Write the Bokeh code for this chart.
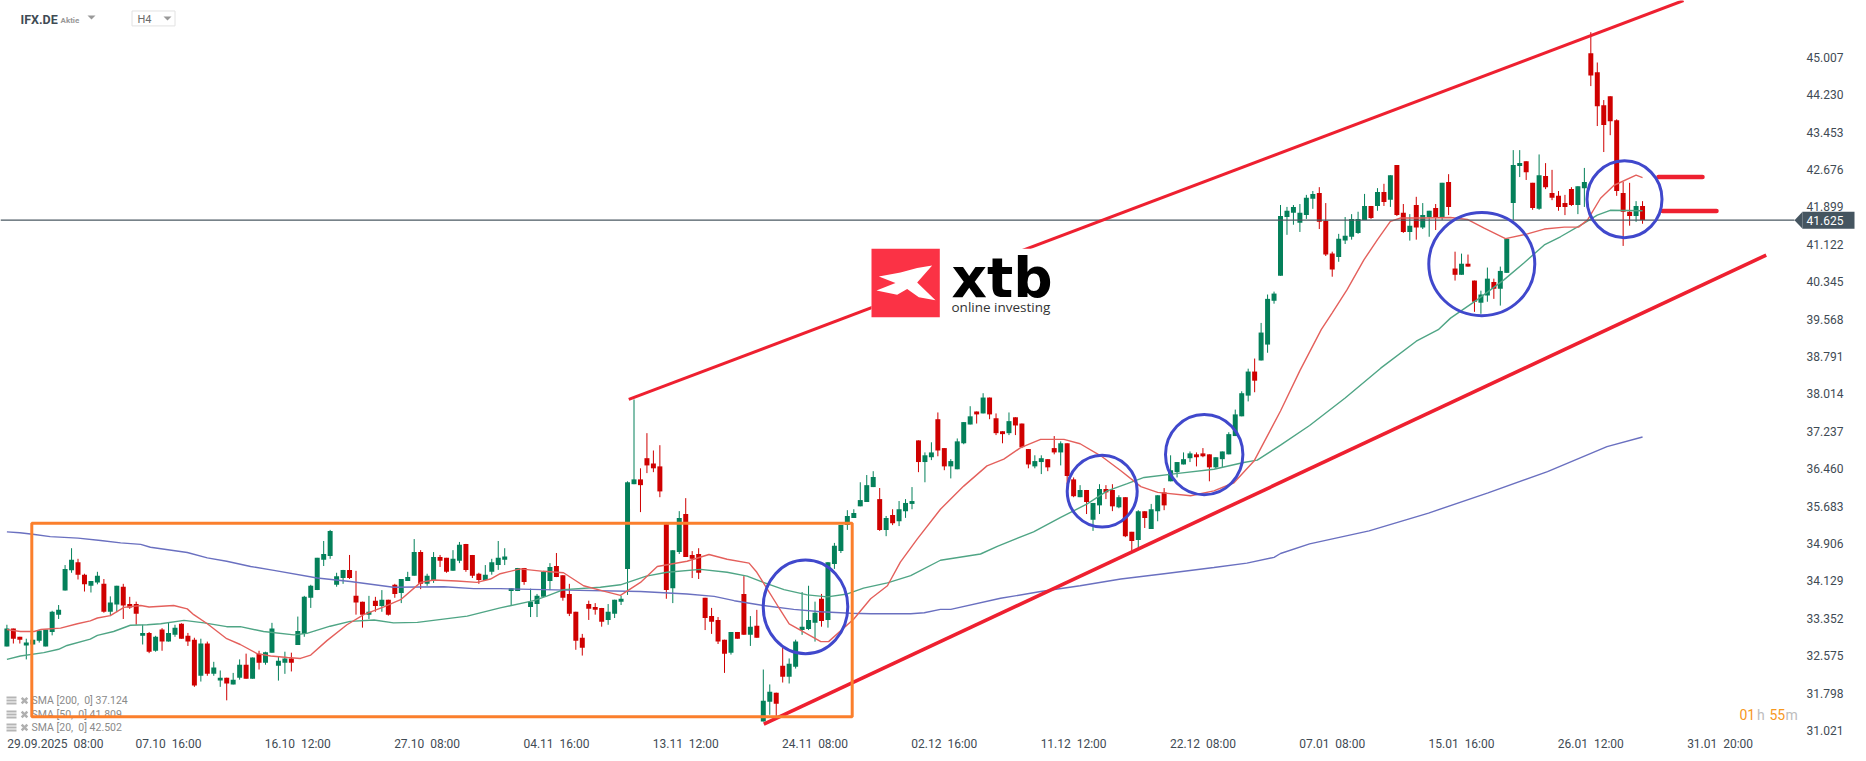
from bokeh.plotting import figure
from bokeh.embed import file_html
from bokeh.resources import INLINE
from bokeh.models import Range1d, FixedTicker, LinearAxis, PrintfTickFormatter
from bokeh.core.properties import value

opens = [
32.77,33.14,32.97,32.79,32.81,32.89,32.77,33.07,33.43,33.93,
34.35,34.52,34.26,34.03,34.10,34.07,33.49,33.64,34.01,33.65,
33.65,32.99,33.05,32.68,33.12,32.87,33.01,33.24,32.99,32.91,
32.16,32.83,32.20,32.06,32.12,31.98,32.12,32.39,32.10,32.62,
32.43,32.64,32.37,32.43,32.52,32.80,33.03,33.78,33.94,34.57,
34.65,34.05,34.19,34.36,33.82,33.70,33.43,33.72,33.61,33.74,
34.05,33.88,34.13,34.24,34.73,34.07,34.15,34.63,34.61,34.34,
34.55,34.90,34.67,34.28,34.15,34.32,34.46,34.57,33.92,33.92,
34.40,33.59,33.65,33.80,34.13,34.44,34.25,33.86,33.49,32.95,
33.65,33.59,33.57,33.32,33.45,33.70,34.38,36.14,36.24,36.68,
36.57,36.51,35.31,33.98,34.73,35.52,34.67,34.69,33.78,33.40,
33.32,32.91,32.64,33.07,33.86,33.01,33.20,31.21,31.62,31.81,
32.37,32.14,32.35,33.11,33.13,33.26,33.76,33.32,34.48,34.75,
35.29,35.44,35.68,35.77,36.08,35.83,35.19,35.50,35.37,35.58,
35.73,37.05,36.60,36.70,37.49,36.89,36.51,36.45,36.99,37.38,
37.65,37.61,37.94,37.51,37.24,37.20,37.53,37.40,36.87,36.51,
36.60,36.66,36.89,36.80,36.99,36.24,35.87,36.02,35.40,35.70,
36.04,36.02,35.66,35.87,35.15,34.98,35.58,35.21,35.58,35.97,
36.20,36.39,36.55,36.68,36.76,36.78,36.76,36.49,36.66,36.76,
37.14,37.55,37.98,38.48,38.71,39.04,39.95,40.47,41.69,41.78,
41.57,41.73,42.07,42.19,41.61,40.93,40.86,41.20,41.28,41.36,
41.63,41.92,41.92,42.21,42.05,42.77,41.78,41.38,41.94,41.47,
41.69,41.88,41.69,42.42,40.62,40.49,40.72,40.37,39.91,40.06,
40.34,40.20,40.53,41.98,42.75,42.85,42.40,41.86,42.54,42.19,
42.13,41.98,42.27,41.94,42.29,45.09,44.70,44.01,44.20,43.70,
42.19,41.80,41.71,41.92]
highs = [
33.22,33.14,32.97,32.93,32.91,33.12,33.12,33.51,33.63,34.46,
34.81,34.59,34.28,34.13,34.32,34.17,33.81,34.03,34.07,33.80,
33.70,33.22,33.07,32.99,33.15,33.27,33.22,33.25,33.05,32.95,
32.93,32.87,32.45,32.27,32.12,32.22,32.50,32.62,32.54,32.68,
32.66,33.26,32.56,32.66,32.64,33.39,33.82,34.05,34.61,34.96,
35.19,34.30,34.36,34.67,34.34,33.70,33.82,33.80,33.94,33.74,
34.07,34.17,34.32,35.00,34.77,34.28,34.73,34.67,34.61,34.77,
34.94,34.90,34.67,34.30,34.46,34.59,34.96,34.81,33.98,34.40,
34.40,33.97,33.86,34.34,34.50,34.71,34.25,34.07,33.49,33.03,
33.72,33.67,33.57,33.65,33.74,33.82,36.20,37.90,36.47,37.20,
36.84,36.95,35.31,34.77,35.58,35.85,34.75,34.81,33.78,33.57,
33.38,32.91,33.07,33.07,34.23,33.40,33.53,32.29,31.98,31.81,
32.74,32.52,32.91,33.90,34.03,33.70,33.86,34.52,34.92,35.29,
35.60,35.62,36.18,36.33,36.41,36.06,35.48,35.62,35.79,35.83,
36.08,37.05,36.80,37.01,37.63,36.89,36.66,37.09,37.43,37.76,
37.65,38.03,37.94,37.61,37.24,37.63,37.53,37.40,36.87,36.74,
36.74,36.66,37.14,37.03,36.99,36.28,36.12,36.02,35.75,36.14,
36.12,36.14,35.91,35.87,35.15,35.60,35.58,35.73,35.91,36.06,
36.74,36.60,36.80,36.82,36.80,36.89,36.76,36.70,36.82,37.22,
37.69,38.07,38.54,38.75,39.49,40.08,40.14,41.94,41.90,41.94,
41.96,42.15,42.23,42.31,41.98,40.97,41.34,41.69,41.75,41.80,
42.17,41.92,42.29,42.38,42.56,42.77,41.96,41.75,42.11,41.98,
41.82,41.96,42.40,42.58,40.97,40.93,40.91,40.37,40.16,40.64,
40.41,40.66,41.24,43.08,43.08,42.85,42.40,42.99,42.81,42.67,
42.23,42.15,42.31,42.33,42.71,45.53,44.90,44.12,44.20,43.72,
42.42,42.40,42.02,42.02]
lows = [
32.77,32.83,32.83,32.50,32.81,32.85,32.77,33.00,33.34,33.93,
34.30,34.16,33.91,33.89,34.06,33.47,33.40,33.48,33.34,33.55,
33.22,32.81,32.63,32.66,32.68,32.87,32.97,32.93,32.78,31.93,
32.04,32.16,32.16,31.93,31.65,31.98,32.08,32.10,32.10,32.29,
32.39,32.64,32.06,32.20,32.25,32.80,32.97,33.57,33.94,34.44,
34.59,34.01,34.07,34.17,33.43,33.16,33.34,33.49,33.49,33.41,
33.78,33.67,34.13,34.24,33.96,34.03,34.09,34.42,34.30,34.34,
34.50,34.32,34.19,34.07,34.13,34.26,34.36,34.46,33.62,33.92,
34.05,33.38,33.38,33.80,33.94,34.21,33.72,33.40,32.70,32.58,
33.32,33.43,33.18,33.22,33.36,33.63,33.84,36.14,35.56,36.37,
36.39,35.87,33.76,33.67,34.69,34.63,34.19,34.17,33.11,33.03,
32.82,32.22,32.60,32.93,33.01,32.78,32.95,31.21,31.35,31.29,
32.02,32.00,32.31,33.01,33.11,32.87,33.18,33.16,34.38,34.71,
35.19,35.44,35.68,35.77,36.08,35.17,35.06,35.29,35.27,35.44,
35.62,36.39,36.18,36.64,36.72,36.43,36.26,36.45,36.97,37.38,
37.40,37.61,37.49,37.16,36.99,37.16,37.16,36.89,36.47,36.47,
36.35,36.41,36.76,36.53,36.14,35.87,35.87,35.52,35.17,35.52,
35.83,35.58,35.64,35.04,34.75,34.81,35.23,35.21,35.37,35.60,
36.20,36.28,36.55,36.60,36.51,36.70,36.20,36.47,36.49,36.76,
37.14,37.55,37.86,38.05,38.71,38.87,39.89,40.47,41.32,41.53,
41.38,41.65,41.86,41.44,40.88,40.45,40.76,41.13,41.22,41.34,
41.63,41.65,41.82,41.92,41.90,41.71,41.36,41.20,41.22,41.44,
41.28,41.42,41.63,41.73,40.37,40.49,40.66,39.72,39.68,39.93,
39.99,39.85,40.53,41.63,42.52,42.46,41.84,41.84,42.27,42.04,
41.82,41.73,41.92,41.75,41.90,44.41,43.58,43.04,43.39,42.13,
41.09,41.51,41.59,41.55]
closes = [
33.14,32.93,32.91,32.85,32.91,33.10,33.12,33.49,33.53,34.38,
34.57,34.26,34.06,34.13,34.24,33.49,33.68,34.03,33.62,33.58,
33.45,33.05,32.66,32.97,32.87,33.05,33.16,32.93,32.87,31.96,
32.83,32.20,32.33,32.12,32.00,32.08,32.39,32.10,32.54,32.43,
32.65,33.14,32.47,32.52,32.43,33.09,33.80,34.03,34.61,34.69,
35.17,34.23,34.36,34.19,33.68,33.43,33.49,33.61,33.74,33.43,
33.86,34.17,34.21,34.73,34.07,34.24,34.63,34.55,34.32,34.59,
34.88,34.36,34.24,34.15,34.26,34.52,34.61,34.64,33.98,34.40,
34.11,33.70,33.82,34.32,34.42,34.21,33.78,33.45,32.89,32.74,
33.55,33.53,33.28,33.49,33.74,33.76,36.18,36.24,36.12,36.53,
36.47,35.99,33.94,34.77,35.44,34.63,34.59,34.30,33.36,33.28,
32.87,32.62,33.07,32.93,33.01,33.18,32.95,31.64,31.83,31.58,
32.14,32.41,32.87,33.18,33.32,33.47,33.30,34.52,34.86,35.29,
35.48,35.54,35.81,36.12,36.29,35.19,35.44,35.33,35.62,35.75,
35.79,36.60,36.74,36.80,36.84,36.51,36.62,37.03,37.43,37.55,
37.59,37.94,37.59,37.20,37.18,37.45,37.36,36.91,36.55,36.62,
36.68,36.49,36.80,36.99,36.31,35.89,36.02,35.77,35.75,36.04,
35.97,35.68,35.87,35.06,34.96,35.58,35.44,35.62,35.91,35.70,
36.43,36.60,36.66,36.78,36.70,36.72,36.49,36.70,36.82,37.18,
37.59,38.03,38.48,38.29,39.29,39.99,40.10,41.71,41.82,41.90,
41.78,42.09,42.17,41.59,40.91,40.60,41.24,41.30,41.65,41.65,
41.92,41.67,42.21,42.00,42.56,41.73,41.38,41.51,41.47,41.73,
41.82,41.69,42.40,41.90,40.49,40.72,40.66,39.93,40.08,40.41,
40.20,40.57,41.24,42.77,42.81,42.62,41.88,42.56,42.31,42.09,
41.90,41.90,41.94,42.33,42.42,44.63,43.99,43.60,43.68,42.23,
41.80,41.71,41.92,41.63]

sma200_x = [0,2,4,6.7,11,14.5,17.6,20.7,22.2,27.9,31,34,37.7,41.3,48,53.1,59.8,67.6,72.2,76.3,83,86.7,98,105.2,109.4,112.5,117,121.7,125.9,130.5,133.6,139.8,141.9,144.4,146,153.7,159.9,166,172.3,179,186.7,191.8,196,197,201.5,210.7,219.9,229.1,238.3,247.5,253]
sma200_y = [35.15,35.13,35.10,35.05,35.02,34.97,34.92,34.89,34.83,34.72,34.61,34.54,34.43,34.35,34.19,34.12,34.00,34.01,33.97,33.97,33.95,33.94,33.91,33.86,33.81,33.72,33.62,33.54,33.49,33.46,33.45,33.45,33.47,33.54,33.54,33.77,33.91,34.03,34.17,34.28,34.41,34.50,34.62,34.70,34.90,35.17,35.54,35.96,36.40,36.92,37.12]
sma50_x = [0,2.1,5.7,8,9.3,12.9,14,16.5,19.1,21.7,23.8,27.4,30.5,34,36.1,39.7,44.4,46.4,50,53.1,56.8,59.8,63.5,71.2,76.3,81.5,83.6,86.1,91.8,94.9,98.9,102.1,107.3,111.4,114.5,117,120.2,123.8,126.9,130,132.5,136.2,139.8,144.4,150.6,153.2,158.8,163,167.1,170.2,173.3,175.9,181.5,186.7,191.3,193.4,197,201.5,207,212.5,218,221.4,223.3,227.4,231.6,234.6,237.8,240.3,243.9,246,248,253]
sma50_y = [32.50,32.57,32.64,32.71,32.79,32.92,33.00,33.08,33.21,33.22,33.24,33.31,33.26,33.18,33.18,33.08,33.01,33.04,33.19,33.29,33.32,33.26,33.27,33.40,33.57,33.72,33.82,33.95,34.00,34.05,34.23,34.31,34.37,34.31,34.23,34.10,33.95,33.84,33.80,33.86,33.98,34.09,34.24,34.56,34.69,34.85,35.15,35.45,35.73,36.00,36.15,36.28,36.37,36.45,36.59,36.64,36.95,37.36,37.93,38.55,39.11,39.35,39.59,39.97,40.39,40.73,41.11,41.28,41.56,41.73,41.83,41.82]
sma20_x = [0,2.1,4.2,5.2,8.3,10.9,12.9,14,16,18.1,20.7,22,25.8,27.9,28.9,31,34,36.1,38.7,40.8,43.4,45.4,47,49.5,52.6,55.2,58.3,60.9,64,66,69.6,72.7,74.8,76.3,79.4,83,86.1,89.2,92.3,94.9,98,100.6,105.2,108.6,111.4,114.8,116,119.2,121,125.9,127.1,131,133.6,136.2,138.2,140.8,144.4,148,151.6,154.2,156.8,159.9,163.5,166,169.2,172.3,175.4,178,183.1,186.7,189.8,192.9,195.5,197,200,203.3,205,207.3,209.9,212,214,215.6,219.2,223.3,225.9,228.5,231.8,235.2,237.8,240.9,243.1,244.5,246.5,248.6,252,253]
sma20_y = [33.12,33.08,33.08,33.12,33.15,33.24,33.30,33.36,33.41,33.58,33.62,33.59,33.62,33.55,33.43,33.24,32.93,32.81,32.62,32.57,32.54,32.52,32.59,32.89,33.22,33.43,33.59,33.74,34.10,34.15,34.13,34.10,34.17,34.28,34.38,34.33,34.30,34.03,33.92,33.83,34.10,34.43,34.54,34.68,34.58,34.50,34.31,33.62,33.24,32.87,32.87,33.34,33.76,34.03,34.52,35.00,35.62,36.10,36.52,36.66,36.90,37.07,37.07,36.98,36.73,36.42,36.09,35.97,35.90,36.00,36.17,36.62,37.28,37.66,38.50,39.35,39.70,40.18,40.80,41.22,41.60,41.67,41.67,41.68,41.64,41.46,41.24,41.34,41.44,41.48,41.48,41.63,42.08,42.35,42.56,42.51]

price_ticks = [31.021,31.798,32.575,33.352,34.129,34.906,35.683,36.460,37.237,38.014,38.791,39.568,40.345,41.122,41.899,42.676,43.453,44.230,45.007]
date_ticks = [7.5,25,45,65,85,105,125,145,165,185,205,225,245,265]
SP = "\u00a0 "
date_labels = ["29.09.2025"+SP+"08:00","07.10"+SP+"16:00","16.10"+SP+"12:00","27.10"+SP+"08:00","04.11"+SP+"16:00","13.11"+SP+"12:00","24.11"+SP+"08:00","02.12"+SP+"16:00","11.12"+SP+"12:00","22.12"+SP+"08:00","07.01"+SP+"08:00","15.01"+SP+"16:00","26.01"+SP+"12:00","31.01"+SP+"20:00"]
last_price = 41.625
legend_rows = ["SMA [200,"+SP+"0] 37.124","SMA [50,"+SP+"0] 41.809","SMA [20,"+SP+"0] 42.502"]

# picture scale of the price chart
BAR_PX, BAR0_PX = 6.465, 6.4
PRICE_PX, PRICE0 = 0.020717, 46.188
def X(px): return (px - BAR0_PX) / BAR_PX
def Y(py): return PRICE0 - PRICE_PX * py

FRAME_R, FRAME_B = 1854, 735
p = figure(width=1858, height=753, output_backend="svg", toolbar_location=None,
           x_range=Range1d(X(0), X(FRAME_R)), y_range=Range1d(Y(FRAME_B), Y(0)),
           x_axis_type=None, y_axis_type=None,
           min_border_left=0, min_border_top=0, min_border_right=1858-FRAME_R, min_border_bottom=753-FRAME_B,
           background_fill_color="white", border_fill_color="white", outline_line_color=None)
p.grid.visible = False

RF, TEXT = "Roboto", "#3f4b54"
yax = LinearAxis(ticker=FixedTicker(ticks=price_ticks), formatter=PrintfTickFormatter(format="%.3f"),
                 axis_line_color=None, major_tick_line_color=None, minor_tick_line_color=None,
                 major_label_text_font=RF, major_label_text_font_size="12px", major_label_text_color=TEXT,
                 major_label_standoff=1806-FRAME_R, major_tick_out=0, major_tick_in=0)
p.add_layout(yax, "right")
xax = LinearAxis(ticker=FixedTicker(ticks=date_ticks),
                 major_label_overrides=dict(zip(date_ticks, date_labels)),
                 axis_line_color=None, major_tick_line_color=None, minor_tick_line_color=None,
                 major_label_text_font=RF, major_label_text_font_size="12px", major_label_text_color=TEXT,
                 major_label_standoff=3, major_tick_out=0, major_tick_in=0)
p.add_layout(xax, "below")

# candles
UP, DOWN = "#04805a", "#cf0000"
idx = list(range(len(opens)))
colors = [UP if c >= o else DOWN for o, c in zip(opens, closes)]
p.segment(idx, highs, idx, lows, line_color=colors, line_width=1)
p.vbar(idx, 0.77, [max(o, c) for o, c in zip(opens, closes)], [min(o, c) for o, c in zip(opens, closes)],
       fill_color=colors, line_color=None)

# moving averages
p.line(sma200_x, sma200_y, line_color="#6a70c0", line_width=1.4)
p.line(sma50_x, sma50_y, line_color="#4fa585", line_width=1.4)
p.line(sma20_x, sma20_y, line_color="#e4605c", line_width=1.4)

# last price line and its tag
p.line([X(0), X(1794)], [last_price, last_price], line_color="#4a5862", line_width=1.3)
p.patch([X(1794), X(1802), X(1802)], [last_price, last_price + 8.5*PRICE_PX, last_price - 8.5*PRICE_PX], fill_color="#455560", line_color=None)
p.quad(left=[X(1802)], right=[X(1854)], top=[last_price + 8.5*PRICE_PX], bottom=[last_price - 8.5*PRICE_PX], fill_color="#455560", line_color=None, level="overlay")
p.text([X(1806)], [last_price], text=["41.625"], text_color="white", text_font=value(RF), text_font_size="12px", text_baseline="middle", level="overlay")

# legend rows
for row, py in zip(legend_rows, [702, 716, 729]):
    p.text([X(31)], [Y(py)], text=[row], text_font=value(RF), text_font_size="10.5px", text_color="#8a8a8a", text_baseline="middle")
    for dy in (-3, 0, 3):
        p.quad(left=[X(6)], right=[X(16)], top=[Y(py + dy - 1)], bottom=[Y(py + dy + 1)], fill_color="#b5b5b5", line_color=None)
    p.scatter([X(24)], [Y(py)], marker="x", size=8, line_color="#b0b0b0", line_width=2.5)

# drawings
RED, ORANGE, BLUE = "#ee2030", "#fb7f2c", "#4048cc"
p.line([X(628.3), X(1683)], [Y(400), Y(0)], line_color=RED, line_width=3)
p.line([X(763.3), X(1765.7)], [Y(725.7), Y(255.3)], line_color=RED, line_width=3.6)
p.line([X(1658), X(1702)], [Y(177), Y(177)], line_color=RED, line_width=4.5, line_cap="round")
p.line([X(1662), X(1716)], [Y(211), Y(211)], line_color=RED, line_width=4.5, line_cap="round")
p.quad(left=[X(31.3)], right=[X(851.7)], top=[Y(524.3)], bottom=[Y(718.3)], fill_color=None, line_color=ORANGE, line_width=3)
for cx, cy, rx, ry in [(805,608,42.3,47),(1101.7,492,35,36),(1203.7,455.3,38.7,40.3),(1481.3,264.3,53,51.7),(1624,199.3,37.5,38.5)]:
    p.ellipse([X(cx)], [Y(cy)], width=[2*rx/BAR_PX], height=[2*ry*PRICE_PX], fill_color=None, line_color=BLUE, line_width=3)

# logo
p.quad(left=[X(871)], right=[X(1053)], top=[Y(249)], bottom=[Y(319)], fill_color="white", line_color=None)
p.quad(left=[X(871)], right=[X(939.3)], top=[Y(249)], bottom=[Y(317.7)], fill_color="#fb3245", line_color=None)
mark = [(85,140),(150,128),(200,115),(245,107),(200,158),(255,212),(205,203),(170,178),(140,195),(78,182),(135,160)]
p.patch([X(850 + a/3) for a, _ in mark], [Y(230 + b/3) for _, b in mark], fill_color="white", line_color=None)
p.text([X(951)], [Y(278)], text=["xtb"], text_font=value("DejaVu Sans"), text_font_style="bold", text_font_size="55px", text_color="black", text_baseline="middle")
p.text([X(951)], [Y(307)], text=["online investing"], text_font=value("Open Sans"), text_font_size="13.5px", text_color="#333333", text_baseline="middle")

# header
p.text([X(20)], [Y(19)], text=["IFX.DE"], text_font=value(RF), text_font_style="bold", text_font_size="12.5px", text_color=TEXT, text_baseline="middle")
p.text([X(60)], [Y(20)], text=["Aktie"], text_font=value(RF), text_font_style="bold", text_font_size="8px", text_color="#999999", text_baseline="middle")
p.patch([X(87), X(95), X(91)], [Y(15), Y(15), Y(19)], fill_color="#999999", line_color=None)
p.quad(left=[X(131.5)], right=[X(174.5)], top=[Y(10.5)], bottom=[Y(25.5)], fill_color=None, line_color="#e2e2e2", line_width=1)
p.text([X(137)], [Y(19.5)], text=["H4"], text_font=value(RF), text_font_size="11px", text_color="#6b6b6b", text_baseline="middle")
p.patch([X(163), X(171), X(167)], [Y(16), Y(16), Y(20)], fill_color="#999999", line_color=None)

# countdown
for px, txt, col in [(1739,"01","#f7981d"),(1756.5,"h","#bdbdbd"),(1769,"55","#f7981d"),(1785,"m","#bdbdbd")]:
    p.text([X(px)], [Y(716)], text=[txt], text_font=value(RF), text_font_size="14px", text_color=col, text_baseline="middle")

open("out.html", "w").write(file_html(p, INLINE))
